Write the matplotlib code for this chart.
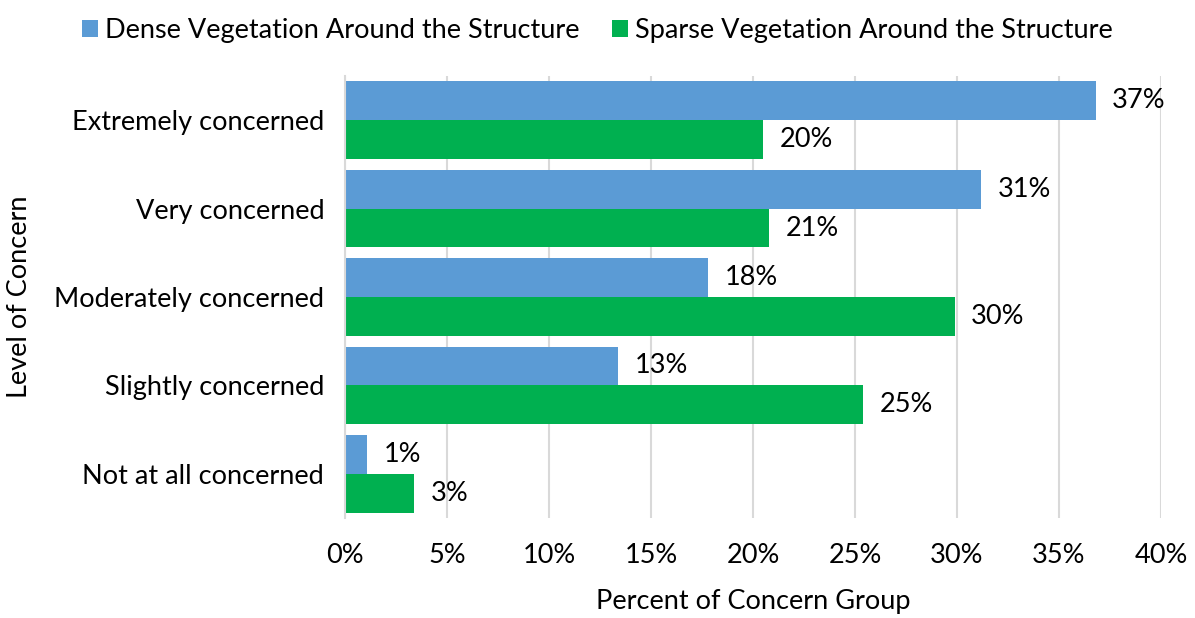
import matplotlib.pyplot as plt
import numpy as np
from matplotlib.ticker import FuncFormatter

plt.rcParams['font.family'] = ['Lato', 'DejaVu Sans']

levels = ["Extremely concerned", "Very concerned", "Moderately concerned",
          "Slightly concerned", "Not at all concerned"]
dense = [36.8, 31.2, 17.8, 13.4, 1.1]
sparse = [20.5, 20.8, 29.9, 25.4, 3.4]
series_names = ["Dense Vegetation Around the Structure",
                "Sparse Vegetation Around the Structure"]
x_ticks = [0, 5, 10, 15, 20, 25, 30, 35, 40]

blue = '#5B9BD5'
green = '#00B050'
fs = 19.5

fig = plt.figure(figsize=(11.95, 6.18), dpi=100)
ax = fig.add_axes([345/1195, 1 - 518/618, (1161-345)/1195, (518-76)/618])

y = np.arange(len(levels))
h = 0.44
b1 = ax.barh(y - h/2, dense, height=h, color=blue, label=series_names[0])
b2 = ax.barh(y + h/2, sparse, height=h, color=green, label=series_names[1])

for bars, vals in ((b1, dense), (b2, sparse)):
    for bar, v in zip(bars, vals):
        ax.text(v + 0.8, bar.get_y() + bar.get_height()/2, f"{v:.0f}%",
                va='center', ha='left', fontsize=fs)

ax.set_ylim(len(levels) - 0.5, -0.5)
ax.set_xlim(0, 40)
ax.set_xticks(x_ticks)
ax.xaxis.set_major_formatter(FuncFormatter(lambda v, p: f"{v:.0f}%"))
ax.set_yticks(y)
ax.set_yticklabels(levels)
ax.tick_params(axis='both', length=0, labelsize=fs)
ax.tick_params(axis='x', pad=18)
ax.tick_params(axis='y', pad=15)

ax.grid(axis='x', color='#d9d9d9', linewidth=1.5)
ax.set_axisbelow(True)
for s in ['top', 'right', 'bottom']:
    ax.spines[s].set_visible(False)
ax.spines['left'].set_color('#d9d9d9')
ax.spines['left'].set_linewidth(1.5)

# axis titles placed in figure coordinates
fig.text(753/1195, 1 - 602/618, "Percent of Concern Group", fontsize=fs,
         ha='center', va='center')
fig.text(20/1195, 1 - 297/618, "Level of Concern", fontsize=fs,
         ha='center', va='center', rotation=90)

fig.legend(handles=[b1, b2], loc='upper center', bbox_to_anchor=(0.5, 1.01),
           ncol=2, frameon=False, fontsize=fs, handlelength=0.6,
           handleheight=0.6, handletextpad=0.25, columnspacing=1.2)

fig.savefig('out.png', dpi=100)
